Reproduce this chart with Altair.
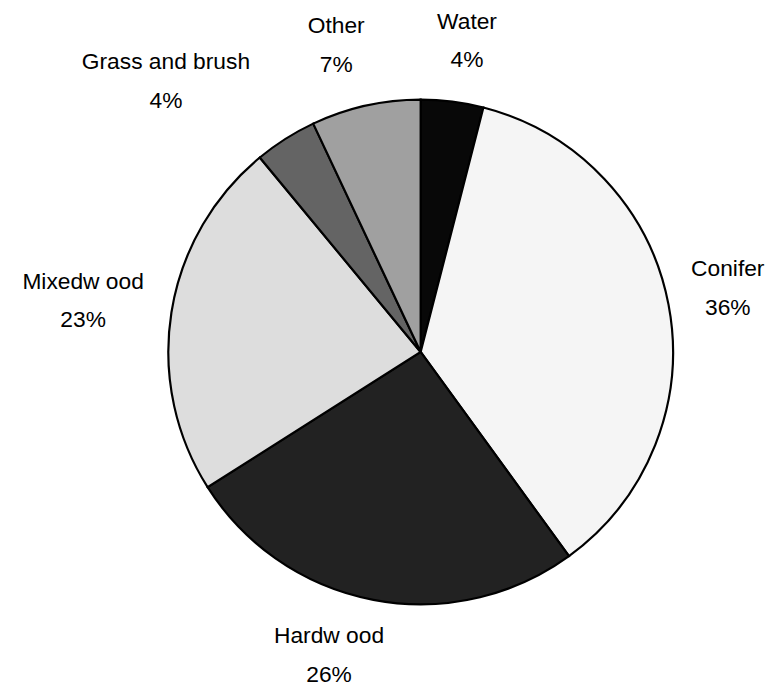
import altair as alt
import pandas as pd

# Data (clockwise from 12 o'clock)
categories = ["Water", "Conifer", "Hardwood", "Mixedwood", "Grass and brush", "Other"]
display_names = ["Water", "Conifer", "Hardw ood", "Mixedw ood", "Grass and brush", "Other"]
percents = [4, 36, 26, 23, 4, 7]
colors = ["#080808", "#f5f5f5", "#222222", "#dddddd", "#646464", "#a0a0a0"]

df = pd.DataFrame({
    "cat": categories,
    "label": [f"{n}\n{p}%" for n, p in zip(display_names, percents)],
    "value": percents,
    "order": list(range(len(categories))),
})

# label nudges (pixels) from the default position on the label ring
label_nudge = {
    "Water": (7, -18),
    "Conifer": (-2, -24),
    "Hardwood": (-33, -25),
    "Mixedwood": (-27, -21),
    "Grass and brush": (-87, -24),
    "Other": (-16, -19),
}

theta_scale = alt.Scale(domain=[0, 100])

pie = alt.Chart(df).mark_arc(outerRadius=255, stroke="black", strokeWidth=2.2).encode(
    theta=alt.Theta("value:Q", stack=True, scale=theta_scale),
    color=alt.Color("cat:N", scale=alt.Scale(domain=categories, range=colors), legend=None),
    order=alt.Order("order:Q"),
)

layers = [pie]
for c in categories:
    dx, dy = label_nudge[c]
    t = (
        alt.Chart(df)
        .transform_window(cum="sum(value)", sort=[alt.SortField("order")], frame=[None, 0])
        .transform_calculate(mid="datum.cum - datum.value / 2")
        .transform_filter(alt.datum.cat == c)
        .mark_text(
            radius=318, dx=dx, dy=dy, fontSize=23, lineHeight=39, lineBreak="\n",
            font="Liberation Sans", align="center", baseline="middle", color="black",
        )
        .encode(
            theta=alt.Theta("mid:Q", stack=False, scale=theta_scale),
            text="label:N",
        )
    )
    layers.append(t)

chart = (
    alt.layer(*layers)
    .properties(
        width=700,
        height=660,
        padding={"left": 67, "top": 14, "right": 0, "bottom": 5},
        autosize=alt.AutoSizeParams(type="none"),
        background="white",
    )
    .configure_view(stroke=None)
)

chart.save("out.html", embed_options={"renderer": "svg", "actions": False})
